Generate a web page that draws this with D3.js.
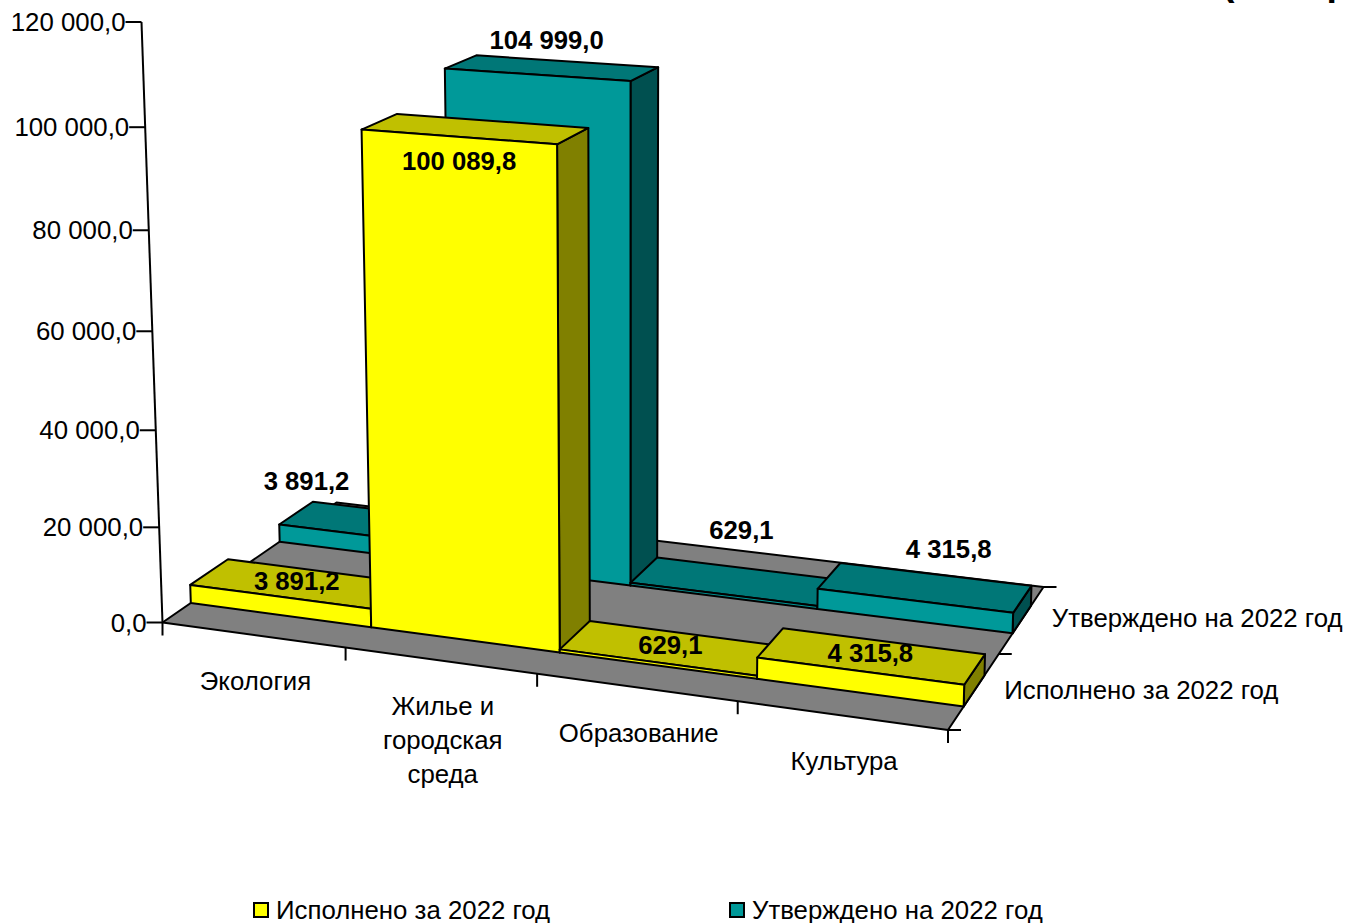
<!DOCTYPE html>
<html>
<head>
<meta charset="utf-8">
<script src="https://cdnjs.cloudflare.com/ajax/libs/d3/7.8.5/d3.min.js"></script>
<style>
    html, body { margin: 0; padding: 0; background: #fff; }
    svg { display: block; }
    text { font-family: "Liberation Sans", Arial, sans-serif; font-size: 25.8px; fill: #000; }
    .value-label { font-weight: bold; font-size: 25.7px; }
</style>
</head>
<body>
<div id="chart"></div>
<script>
    // Data
    const categories = ["Экология", "Жилье и городская среда", "Образование", "Культура"];
    const categoryLines = [["Экология"], ["Жилье и", "городская", "среда"], ["Образование"], ["Культура"]];
    const seriesNames = ["Исполнено за 2022 год", "Утверждено на 2022 год"];
    const executed = [3891.2, 100089.8, 629.1, 4315.8];
    const approved = [3891.2, 104999.0, 629.1, 4315.8];
    const valueLabels = [
        ["3 891,2", "100 089,8", "629,1", "4 315,8"],
        ["3 891,2", "104 999,0", "629,1", "4 315,8"]
    ];
    const yTicks = [0, 20000, 40000, 60000, 80000, 100000, 120000];
    const yTickLabels = ["0,0", "20 000,0", "40 000,0", "60 000,0", "80 000,0", "100 000,0", "120 000,0"];

    const width = 1348;
    const height = 923;

    const colors = [
        { front: "#ffff00", top: "#c0c000", side: "#808000", swatch: "#ffff00" },
        { front: "#009999", top: "#007777", side: "#005050", swatch: "#009999" }
    ];

    // Scales into the unit box of the 3D plot
    const uScale = d3.scaleBand().domain(categories).range([0, 1]);
    const vScale = d3.scaleBand().domain(seriesNames).range([0, 1]).paddingInner(0.59).paddingOuter(0.295);
    const zScale = d3.scaleLinear().domain([0, 120000]).range([0, 1]);

    // Camera: floor corners on screen, then height foreshortening and lean of the verticals
    const floorCorners = { p0: [162.5, 622.5], p1: [948, 730], p2: [1043.5, 587], p3: [336.5, 502.5] };
    const axisTopY = 22;
    const heightPersp = -0.0583;
    const leanCenterX = 630;
    const leanPerPx = 0.0000748;

    const { p0, p1, p2, p3 } = floorCorners;
    const sx = p0[0] - p1[0] + p2[0] - p3[0];
    const sy = p0[1] - p1[1] + p2[1] - p3[1];
    const dx1 = p1[0] - p2[0], dx2 = p3[0] - p2[0];
    const dy1 = p1[1] - p2[1], dy2 = p3[1] - p2[1];
    const den = dx1 * dy2 - dx2 * dy1;
    const g = (sx * dy2 - dx2 * sy) / den;
    const h = (dx1 * sy - sx * dy1) / den;
    const a = p1[0] * (1 + g) - p0[0], b = p3[0] * (1 + h) - p0[0];
    const d = p1[1] * (1 + g) - p0[1], e = p3[1] * (1 + h) - p0[1];
    const zy = axisTopY * (1 + heightPersp) - p0[1];

    function project(u, v, value) {
        const z = zScale(value);
        const w = g * u + h * v + 1;
        const fx = (a * u + b * v + p0[0]) / w;
        const fy = (d * u + e * v + p0[1]) / w;
        const y = (d * u + e * v + p0[1] + zy * z) / (w + heightPersp * z);
        const x = fx + (fx - leanCenterX) * (fy - y) * leanPerPx;
        return [x, y];
    }

    const svg = d3.select("#chart").append("svg")
        .attr("width", width)
        .attr("height", height);

    const polyPoints = pts => pts.map(p => p.join(",")).join(" ");

    // Floor
    svg.append("polygon")
        .attr("points", polyPoints([project(0, 0, 0), project(1, 0, 0), project(1, 1, 0), project(0, 1, 0)]))
        .attr("fill", "#808080")
        .attr("stroke", "#000")
        .attr("stroke-width", 2)
        .attr("stroke-linejoin", "round");

    // Build bars, back series first, then left to right
    const seriesValues = [executed, approved];
    const bars = [];
    [1, 0].forEach(s => {
        categories.forEach((c, i) => {
            bars.push({
                s: s,
                value: seriesValues[s][i],
                u0: uScale(c),
                u1: uScale(c) + uScale.bandwidth(),
                v0: vScale(seriesNames[s]),
                v1: vScale(seriesNames[s]) + vScale.bandwidth()
            });
        });
    });

    const barGroups = svg.selectAll(".bar")
        .data(bars)
        .enter().append("g")
        .attr("class", "bar")
        .attr("stroke", "#000")
        .attr("stroke-width", 2)
        .attr("stroke-linejoin", "round");

    barGroups.append("polygon")
        .attr("fill", b => colors[b.s].side)
        .attr("points", b => polyPoints([project(b.u1, b.v0, 0), project(b.u1, b.v1, 0), project(b.u1, b.v1, b.value), project(b.u1, b.v0, b.value)]));

    barGroups.append("polygon")
        .attr("fill", b => colors[b.s].top)
        .attr("points", b => polyPoints([project(b.u0, b.v0, b.value), project(b.u1, b.v0, b.value), project(b.u1, b.v1, b.value), project(b.u0, b.v1, b.value)]));

    barGroups.append("polygon")
        .attr("fill", b => colors[b.s].front)
        .attr("points", b => polyPoints([project(b.u0, b.v0, 0), project(b.u1, b.v0, 0), project(b.u1, b.v0, b.value), project(b.u0, b.v0, b.value)]));

    // Value axis: slanted line with ticks and labels
    const axisG = svg.append("g").attr("stroke", "#000").attr("stroke-width", 2);
    const axisTop = project(0, 0, 120000);
    axisG.append("line")
        .attr("x1", p0[0]).attr("y1", p0[1])
        .attr("x2", axisTop[0]).attr("y2", axisTop[1]);

    yTicks.forEach((t, i) => {
        const p = project(0, 0, t);
        axisG.append("line")
            .attr("x1", p[0] - 16).attr("y1", p[1])
            .attr("x2", p[0]).attr("y2", p[1]);
        svg.append("text")
            .attr("x", p[0] - 16)
            .attr("y", p[1])
            .attr("dy", "0.35em")
            .style("text-anchor", "end")
            .text(yTickLabels[i]);
    });

    // Category axis ticks along the front edge
    const uTicks = categories.map(c => uScale(c)).concat([1]);
    uTicks.forEach(u => {
        const p = project(u, 0, 0);
        axisG.append("line")
            .attr("x1", p[0]).attr("y1", p[1])
            .attr("x2", p[0]).attr("y2", p[1] + 13);
    });

    // Depth axis ticks along the right edge
    [0, 0.5, 1].forEach(v => {
        const p = project(1, v, 0);
        axisG.append("line")
            .attr("x1", p[0]).attr("y1", p[1])
            .attr("x2", p[0] + 13).attr("y2", p[1]);
    });

    // Category labels
    categories.forEach((c, i) => {
        const p = project(uScale(c) + uScale.bandwidth() / 2, 0, 0);
        const lines = categoryLines[i];
        lines.forEach((line, j) => {
            svg.append("text")
                .attr("x", p[0] + 2.5)
                .attr("y", p[1] + (lines.length > 1 ? 45 : 46) + j * 34)
                .attr("dy", "0.35em")
                .style("text-anchor", "middle")
                .text(line);
        });
    });

    // Series names on the depth axis
    seriesNames.forEach(name => {
        const p = project(1, vScale(name) + vScale.bandwidth() / 2, 0);
        svg.append("text")
            .attr("x", p[0] + 30)
            .attr("y", p[1] - 1)
            .attr("dy", "0.35em")
            .text(name);
    });

    // Value labels sit near the bar top, the chart placed some of them further away
    const labelShift = [
        [[-1, -2], [-16, 32], [-1, -3], [-1, -3]],
        [[-74, -42], [-5, -28], [6, -51], [24, -38]]
    ];
    seriesNames.forEach((name, s) => {
        categories.forEach((c, i) => {
            const p = project(uScale(c) + uScale.bandwidth() / 2, vScale(name) + vScale.bandwidth() / 2, seriesValues[s][i]);
            svg.append("text")
                .attr("class", "value-label")
                .attr("x", p[0] + labelShift[s][i][0])
                .attr("y", p[1] + labelShift[s][i][1])
                .attr("dy", "0.35em")
                .style("text-anchor", "middle")
                .text(valueLabels[s][i]);
        });
    });

    // Legend
    const legend = svg.selectAll(".legend")
        .data(seriesNames)
        .enter().append("g")
        .attr("class", "legend")
        .attr("transform", (d, i) => `translate(${[254, 730][i]},903)`);
    legend.append("rect")
        .attr("width", 14).attr("height", 14)
        .attr("fill", (d, i) => colors[i].swatch)
        .attr("stroke", "#000")
        .attr("stroke-width", 2);
    legend.append("text")
        .attr("x", 22)
        .attr("y", 7)
        .attr("dy", "0.35em")
        .text(d => d);

    // Title, cut off by the top of the picture
    svg.append("text")
        .attr("x", 1222)
        .attr("y", -5)
        .style("font-size", "37.5px")
        .style("font-weight", "bold")
        .text("(тыс. руб.)");
</script>
</body>
</html>
